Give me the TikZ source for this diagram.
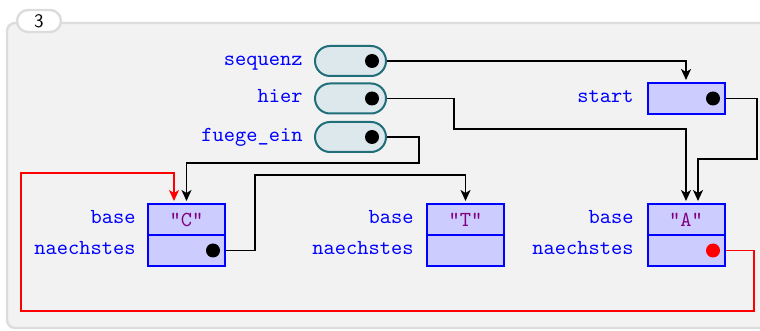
\documentclass[tikz,border=0pt]{standalone}
\usepackage{tikz}
\usetikzlibrary{arrows.meta}
\usetikzlibrary{shapes.misc}
\pgfdeclarelayer{framelayer}
\pgfdeclarelayer{edgelayer}
\pgfdeclarelayer{nodelayer}
\pgfsetlayers{framelayer,edgelayer,nodelayer,main}
\definecolor{framefill}{HTML}{F2F2F2}
\definecolor{framedraw}{HTML}{DCDCDC}
\definecolor{varfill}{HTML}{DDE8EC}
\definecolor{vardraw}{HTML}{1F6E7A}
\definecolor{strtext}{HTML}{800080}
\tikzstyle{none}=[inner sep=0pt]
\tikzstyle{tabbox}=[rounded rectangle,fill=white,draw=framedraw,line width=1.2pt,minimum width=22pt,minimum height=11pt,inner sep=0pt,font=\sffamily\fontsize{9.5}{10}\selectfont]
\tikzstyle{fieldlabel}=[inner sep=0pt,anchor=mid east,text=blue,font=\ttfamily\fontsize{10.7}{12}\selectfont]
\tikzstyle{varbox}=[rounded rectangle,fill=varfill,draw=vardraw,line width=1pt,minimum width=35.5pt,minimum height=15pt,inner sep=0pt]
\tikzstyle{cellbox}=[rectangle,fill=blue!20,draw=blue,line width=1pt,minimum width=38.5pt,minimum height=15.5pt,inner sep=0pt,text=strtext,font=\ttfamily\fontsize{10.7}{12}\selectfont]
\tikzstyle{refdot}=[circle,fill=black,inner sep=0pt,minimum size=7pt]
\tikzstyle{refarrow}=[-{Stealth[length=5.5pt,width=5pt,inset=1.5pt]},draw=black,line width=0.8pt,shorten >=1pt]
\tikzstyle{backarrow}=[-{Stealth[length=5.5pt,width=5pt,inset=1.5pt]},draw=red,line width=0.65pt,shorten >=1pt]

\begin{document}
\begin{tikzpicture}[x=0.5pt,y=-0.5pt]
	\useasboundingbox (0,0) rectangle (760,331);
	\begin{pgfonlayer}{framelayer}
		\draw [draw=framedraw, fill=framefill, line width=1.2pt, rounded corners=4pt] (7,23) rectangle (775,328);
	\end{pgfonlayer}
	\begin{pgfonlayer}{nodelayer}
		\node [style=tabbox] (0) at (39,21) {3};
		\node [style=fieldlabel] (1) at (303,61) {sequenz};
		\node [style=fieldlabel] (2) at (303,98.5) {hier};
		\node [style=fieldlabel] (3) at (303,137) {fuege\_ein};
		\node [style=fieldlabel] (4) at (634,98.5) {start};
		\node [style=fieldlabel] (5) at (136,219.5) {base};
		\node [style=fieldlabel] (6) at (136,250.5) {naechstes};
		\node [style=fieldlabel] (7) at (414,219.5) {base};
		\node [style=fieldlabel] (8) at (414,250.5) {naechstes};
		\node [style=fieldlabel] (9) at (634,219.5) {base};
		\node [style=fieldlabel] (10) at (634,250.5) {naechstes};
		\node [style=varbox] (11) at (350.5,61) {};
		\node [style=varbox] (12) at (350.5,98.5) {};
		\node [style=varbox] (13) at (350.5,137) {};
		\node [style=cellbox] (14) at (686,98.5) {};
		\node [style=cellbox] (15) at (186.5,219.5) {"C"};
		\node [style=cellbox] (16) at (186.5,250.5) {};
		\node [style=cellbox] (17) at (465.5,219.5) {"T"};
		\node [style=cellbox] (18) at (465.5,250.5) {};
		\node [style=cellbox] (19) at (686,219.5) {"A"};
		\node [style=cellbox] (20) at (686,250.5) {};
		\node [style=refdot] (21) at (372,61) {};
		\node [style=refdot] (22) at (372,98.5) {};
		\node [style=refdot] (23) at (372,137) {};
		\node [style=refdot] (24) at (713,98.5) {};
		\node [style=refdot] (25) at (213,250.5) {};
		\node [style=refdot, fill=red] (26) at (713,250.5) {};
	\end{pgfonlayer}
	\begin{pgfonlayer}{edgelayer}
		\draw [style=refarrow] (21.center) -| (14);
		\draw [style=refarrow] (22.center) -| (454,129) -| (19);
		\draw [style=refarrow] (24.center) -| (757,159) -| ([xshift=6pt]19.north);
		\draw [style=refarrow] (23.center) -| (419,163) -| (15);
		\draw [style=refarrow] (25.center) -| (255,175) -| (17);
		\draw [style=backarrow] (26.center) -| (754,311) -| (21,173) -| ([xshift=-6.25pt]15.north);
	\end{pgfonlayer}
\end{tikzpicture}
\end{document}
